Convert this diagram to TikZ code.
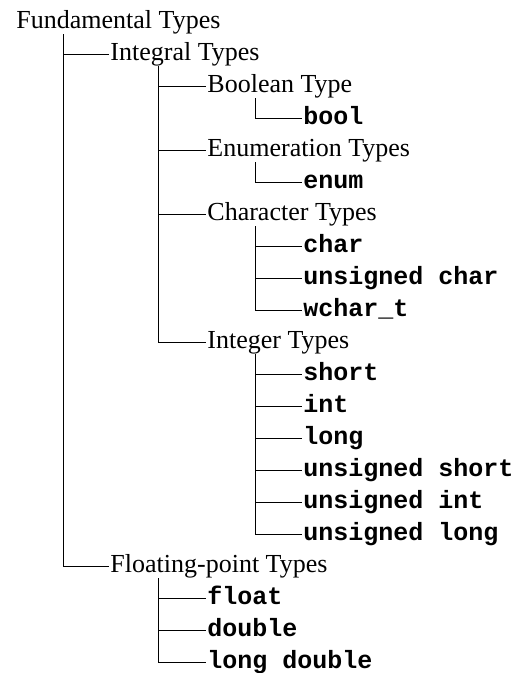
\documentclass[tikz,border=0pt]{standalone}
\usepackage{fontspec}
\setmainfont{Liberation Serif}
\setmonofont{Liberation Mono}
\usepackage{tikz}

\begin{document}
\begin{tikzpicture}[x=1pt,y=-1pt,line width=0.9pt]
\tikzstyle{grp}=[anchor=west,inner sep=0pt,inner xsep=1pt,text height=18pt,text depth=6pt,font=\fontsize{26pt}{26pt}\selectfont]
\tikzstyle{kw}=[grp,font=\fontsize{25pt}{25pt}\selectfont\ttfamily\bfseries]
\tikzstyle{branch}=[-]
	\useasboundingbox (0,0) rectangle (532,673);

	\node[grp] (fund) at (15,22) {Fundamental Types};
	\node[grp] (integral) at (109,54) {Integral Types};
	\node[grp] (boolean) at (206,86) {Boolean Type};
	\node[kw] (boolkw) at (302,118) {bool};
	\node[grp] (enumer) at (206,150) {Enumeration Types};
	\node[kw] (enumkw) at (302,182) {enum};
	\node[grp] (charac) at (206,214) {Character Types};
	\node[kw] (charkw) at (302,246) {char};
	\node[kw] (uchar) at (302,278) {unsigned char};
	\node[kw] (wchar) at (302,310) {wchar\_t};
	\node[grp] (integer) at (206,342) {Integer Types};
	\node[kw] (short) at (302,374) {short};
	\node[kw] (int) at (302,406) {int};
	\node[kw] (long) at (302,438) {long};
	\node[kw] (ushort) at (302,470) {unsigned short};
	\node[kw] (uint) at (302,502) {unsigned int};
	\node[kw] (ulong) at (302,534) {unsigned long};
	\node[grp] (floating) at (109,566) {Floating-point Types};
	\node[kw] (float) at (206,598) {float};
	\node[kw] (double) at (206,630) {double};
	\node[kw] (ldouble) at (206,662) {long double};

	\foreach \c in {integral,floating}
		\draw[branch] ([xshift=48pt]fund.south west) |- (\c.west);
	\foreach \c in {boolean,enumer,charac,integer}
		\draw[branch] ([xshift=49pt]integral.south west) |- (\c.west);
	\draw[branch] ([xshift=49pt]boolean.south west) |- (boolkw.west);
	\draw[branch] ([xshift=49pt]enumer.south west) |- (enumkw.west);
	\foreach \c in {charkw,uchar,wchar}
		\draw[branch] ([xshift=49pt]charac.south west) |- (\c.west);
	\foreach \c in {short,int,long,ushort,uint,ulong}
		\draw[branch] ([xshift=49pt]integer.south west) |- (\c.west);
	\foreach \c in {float,double,ldouble}
		\draw[branch] ([xshift=49pt]floating.south west) |- (\c.west);
\end{tikzpicture}
\end{document}
